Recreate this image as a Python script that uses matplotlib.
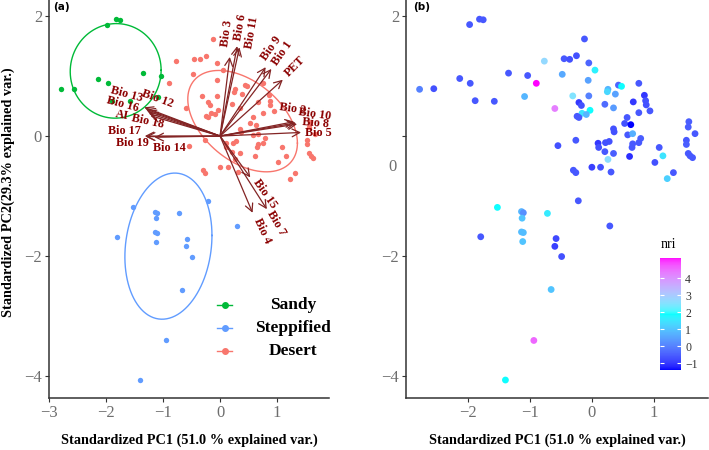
import numpy as np
import matplotlib
matplotlib.use("Agg")
import matplotlib.pyplot as plt
from matplotlib.colors import ListedColormap
from matplotlib.lines import Line2D

# ---------------- data ----------------
groups = ["Sandy", "Steppified", "Desert"]
group_colors = {"Sandy": "#00BA38", "Steppified": "#619CFF", "Desert": "#F8766D"}

sandy_pc1 = [-1.98, -1.82, -1.76, -2.79, -2.56, -2.14, -1.97, -1.89, -1.58, -1.35, -1.04, -1.09]
sandy_pc2 = [1.86, 1.95, 1.94, 0.78, 0.79, 0.96, 0.88, 0.59, 0.58, 1.05, 1.01, 0.66]
sandy_nri = [-0.6, -0.6, -0.6, 0.0, -0.7, -0.6, -0.6, -0.6, -0.6, -0.6, -0.6, 0.8]

stepp_pc1 = [-1.53, -1.14, -1.11, -1.13, -0.72, -0.22, 0.29, -1.80, -1.14, -1.11, -1.12,
             -0.58, -0.60, -0.49, -0.66, -0.94, -1.40]
stepp_pc2 = [-1.19, -1.26, -1.28, -1.37, -1.29, -1.08, -1.50, -1.68, -1.60, -1.61, -1.76,
             -1.71, -1.84, -2.01, -2.56, -3.41, -4.07]
stepp_nri = [1.9, 0.8, 0.2, 1.0, 1.6, -0.6, -0.6, -0.6, 0.9, 0.9, 1.0,
             -0.8, -0.9, -0.7, 1.0, 4.6, 1.9]

desert_pc1 = [-0.77, -0.90, -0.12, -0.45, -0.36, -0.25, -0.05, 0.05, -0.48, -0.06,
              0.43, 0.48, 0.76, 0.26, 0.25, 0.38, -0.31, -0.05, 0.85, 0.87,
              0.88, 0.94, 0.67, -0.21, -0.17, -0.60, 0.21, 0.35, -0.03, -0.16,
              -0.09, -0.24, -0.21, 0.76, 0.57, 1.57, 1.56, 1.67, 1.53, 1.53,
              1.56, 1.59, 1.63, 0.53, 0.63, 0.35, 0.36, 0.58, 0.66, 0.79,
              0.76, 0.66, 0.65, 1.09, 1.15, 1.02, 1.32, 1.22, 0.61, 0.26,
              0.10, 0.11, 0.22, 0.28, 0.21, 0.35, -0.55, -0.26, -0.30, -0.26,
              0.00, 0.14, 0.31]
desert_pc2 = [1.25, 0.88, 1.62, 1.29, 1.28, 1.34, 1.22, 1.10, 1.03, 0.93,
              0.85, 0.83, 0.88, 0.78, 0.74, 0.70, 0.67, 0.67, 0.68, 0.59,
              0.52, 0.42, 0.57, 0.56, 0.51, 0.46, 0.53, 0.47, 0.43, 0.38,
              0.36, 0.33, 0.31, 0.39, 0.31, 0.24, 0.15, 0.04, -0.07, -0.14,
              -0.29, -0.33, -0.36, 0.21, 0.19, 0.12, 0.07, 0.02, 0.04, -0.04,
              -0.11, -0.13, -0.19, -0.19, -0.33, -0.44, -0.61, -0.71, -0.34, -0.39,
              -0.12, -0.19, -0.11, -0.09, -0.26, -0.29, -0.16, -0.07, -0.57, -0.61,
              -0.52, -0.52, -0.60]
desert_nri = [2.7, 5.2, -0.6, -0.6, -0.7, -0.7, -0.4, 1.7, 0.6, 0.5,
              -0.4, 1.9, -0.6, 0.8, 1.3, 0.5, 2.5, 0.0, -1.0, -0.7,
              -0.7, -0.6, -1.0, -1.0, -0.7, 4.3, -0.3, 0.4, 1.9, 1.5,
              0.8, -0.6, -0.6, -0.6, -0.6, -0.5, -0.5, -0.6, -0.6, -0.5,
              -0.6, -0.6, -0.6, -0.7, -1.4, -0.7, -0.7, -0.6, 0.7, -0.5,
              -0.6, -0.6, -0.6, -0.6, 1.5, -0.7, -0.6, 1.2, -1.1, 2.6,
              -1.0, -0.7, -0.7, -0.7, -0.6, -0.5, -0.7, -0.6, -0.6, -0.6,
              -0.9, -0.7, -0.6]

var_names = ["Bio 3", "Bio 6", "Bio 11", "Bio 9", "Bio 1", "PET", "Bio 2", "Bio 10",
             "Bio 8", "Bio 5", "Bio 15", "Bio 7", "Bio 4", "Bio 12", "Bio 13", "Bio 16",
             "AI", "Bio 18", "Bio 17", "Bio 19", "Bio 14"]
load_pc1 = [0.17, 0.30, 0.34, 0.80, 0.90, 1.10, 1.30, 1.33, 1.35, 1.42, 0.53, 0.82, 0.57,
            -1.33, -1.30, -1.28, -1.25, -1.22, -1.32, -1.30, -1.15]
load_pc2 = [1.32, 1.50, 1.48, 1.15, 1.12, 0.94, 0.24, 0.22, 0.20, 0.06, -0.69, -1.22, -1.28,
            0.48, 0.45, 0.42, 0.38, 0.34, 0.00, -0.01, -0.02]

xticks_vals = [-3, -2, -1, 0, 1]
yticks_vals = [-4, -2, 0, 2]
cbar_ticks = [-1, 0, 1, 2, 3, 4]

# ---------------- style ----------------
# label placement: (dx, dy) pixel offset of label centre from arrow tip, rotation
label_style = {
    "Bio 3": (-3, 24, 82), "Bio 6": (3, 19, 80), "Bio 11": (12, 15, 80),
    "Bio 9": (6, 19, 55), "Bio 1": (11, 16, 55), "PET": (12, 13, 45),
    "Bio 2": (-2, 13, -8), "Bio 10": (19, 9, -8), "Bio 8": (18, 1, -5),
    "Bio 5": (17, -1, 0), "Bio 15": (15, -16, -55), "Bio 7": (9, -14, -60),
    "Bio 4": (10, -18, -65), "Bio 12": (13, 9, -20), "Bio 13": (-19, 15, -15),
    "Bio 16": (-24, 7, -15), "AI": (-27, -2, -10), "Bio 18": (-3, -6, -12),
    "Bio 17": (-20, 5, 0), "Bio 19": (-14, -6, 0), "Bio 14": (15, -11, 0),
}

SERIF = ["Liberation Serif", "DejaVu Serif"]
plt.rcParams["font.family"] = SERIF
TICK_COLOR = "#6e6e6e"
TICK_SIZE = 12
TITLE_SIZE = 10.3
W, H = 709, 450


def srgb_to_lab(rgb):
    rgb = np.asarray(rgb, float)
    lin = np.where(rgb <= 0.04045, rgb / 12.92, ((rgb + 0.055) / 1.055) ** 2.4)
    M = np.array([[0.4124564, 0.3575761, 0.1804375],
                  [0.2126729, 0.7151522, 0.0721750],
                  [0.0193339, 0.1191920, 0.9503041]])
    xyz = lin @ M.T / np.array([0.95047, 1.0, 1.08883])
    d = 6 / 29
    f = np.where(xyz > d ** 3, np.cbrt(xyz), xyz / (3 * d * d) + 4 / 29)
    L = 116 * f[..., 1] - 16
    a = 500 * (f[..., 0] - f[..., 1])
    b = 200 * (f[..., 1] - f[..., 2])
    return np.stack([L, a, b], -1)


def lab_to_srgb(lab):
    L, a, b = lab[..., 0], lab[..., 1], lab[..., 2]
    fy = (L + 16) / 116
    fx = fy + a / 500
    fz = fy - b / 200
    d = 6 / 29
    inv = lambda t: np.where(t > d, t ** 3, 3 * d * d * (t - 4 / 29))
    xyz = np.stack([inv(fx), inv(fy), inv(fz)], -1) * np.array([0.95047, 1.0, 1.08883])
    Minv = np.linalg.inv(np.array([[0.4124564, 0.3575761, 0.1804375],
                                   [0.2126729, 0.7151522, 0.0721750],
                                   [0.0193339, 0.1191920, 0.9503041]]))
    lin = np.clip(xyz @ Minv.T, 0, 1)
    srgb = np.where(lin <= 0.0031308, lin * 12.92, 1.055 * lin ** (1 / 2.4) - 0.055)
    return np.clip(srgb, 0, 1)


anchors = srgb_to_lab(np.array([[0, 0, 1], [0, 1, 1], [1, 0, 1]], float))
tt = np.linspace(0, 1, 256)
labs = np.empty((256, 3))
for i, t in enumerate(tt):
    if t <= 0.5:
        u = t / 0.5
        labs[i] = anchors[0] * (1 - u) + anchors[1] * u
    else:
        u = (t - 0.5) / 0.5
        labs[i] = anchors[1] * (1 - u) + anchors[2] * u
cmap = ListedColormap(lab_to_srgb(labs))

fig = plt.figure(figsize=(W / 100, H / 100), dpi=100)
axA = fig.add_axes([49 / W, 52 / H, 280 / W, 398 / H])
axB = fig.add_axes([406 / W, 52 / H, 302 / W, 398 / H])

group_data = {
    "Sandy": (sandy_pc1, sandy_pc2, sandy_nri),
    "Steppified": (stepp_pc1, stepp_pc2, stepp_nri),
    "Desert": (desert_pc1, desert_pc2, desert_nri),
}


def style_axes(ax, xlim, ylim):
    ax.set_xlim(*xlim)
    ax.set_ylim(*ylim)
    for s in ["top", "right"]:
        ax.spines[s].set_visible(False)
    for s in ["left", "bottom"]:
        ax.spines[s].set_color("#333333")
        ax.spines[s].set_linewidth(1.1)
    ax.set_xticks(xticks_vals)
    ax.set_yticks(yticks_vals)
    ax.tick_params(axis="both", colors="#333333", labelcolor=TICK_COLOR, labelsize=TICK_SIZE,
                   length=3, width=0.8, pad=2)
    for lab in ax.get_xticklabels() + ax.get_yticklabels():
        lab.set_family(SERIF)


# ---------------- panel (a) ----------------
style_axes(axA, (-3.0, 1.91), (-4.37, 2.27))
ed = np.sqrt(-2 * np.log(1 - 0.68))
theta = np.linspace(0, 2 * np.pi, 200)
circle = np.column_stack([np.cos(theta), np.sin(theta)])
for g in ["Desert", "Sandy", "Steppified"]:
    x, y, _ = group_data[g]
    axA.scatter(x, y, s=15, color=group_colors[g], linewidths=0, zorder=2)
    pts = np.column_stack([x, y])
    mu = pts.mean(axis=0)
    sigma = np.cov(pts, rowvar=False)
    L = np.linalg.cholesky(sigma)
    ell = circle @ L.T * ed + mu
    axA.plot(ell[:, 0], ell[:, 1], color=group_colors[g], lw=1.0, zorder=2)

for name, vx, vy in zip(var_names, load_pc1, load_pc2):
    axA.annotate("", xy=(vx, vy), xytext=(0, 0),
                 arrowprops=dict(arrowstyle="->,head_length=0.55,head_width=0.28",
                                 color="#832424", lw=0.9, shrinkA=0, shrinkB=0),
                 zorder=3)
    dx, dy, rot = label_style[name]
    axA.annotate(name, xy=(vx, vy), xytext=(dx, dy), textcoords="offset pixels",
                 ha="center", va="center", rotation=rot, rotation_mode="anchor",
                 color="#8B0000", fontsize=8.7, fontweight="bold", family=SERIF, zorder=4)

# legend (manual, ggplot-like centred labels)
for g, ypx in zip(groups, [305, 328, 351]):
    yf = 1 - ypx / H
    fig.add_artist(Line2D([217 / W, 232 / W], [yf, yf], transform=fig.transFigure,
                          color=group_colors[g], lw=1.0))
    fig.add_artist(Line2D([224.5 / W], [yf], transform=fig.transFigure, marker="o",
                          markersize=4, color=group_colors[g], lw=0))
    fig.text(293 / W, yf, g, ha="center", va="center", fontsize=12.5,
             fontweight="bold", family=SERIF)

fig.text(53 / W, 1 - 2 / H, "(a)", ha="left", va="top", fontsize=7.5,
         fontweight="bold", family=["DejaVu Sans"])
fig.text(189 / W, 1 - 440 / H, "Standardized PC1 (51.0 % explained var.)",
         ha="center", va="center", fontsize=TITLE_SIZE, fontweight="bold", family=SERIF)
fig.text(8 / W, 1 - 192 / H, "Standardized PC2(29.3% explained var.)",
         ha="center", va="center", rotation=90, fontsize=TITLE_SIZE, fontweight="bold",
         family=SERIF)

# ---------------- panel (b) ----------------
style_axes(axB, (-3.01, 1.88), (-4.37, 2.27))
all_x = sandy_pc1 + stepp_pc1 + desert_pc1
all_y = sandy_pc2 + stepp_pc2 + desert_pc2
all_nri = sandy_nri + stepp_nri + desert_nri
sc = axB.scatter(all_x, all_y, c=all_nri, cmap=cmap, vmin=min(all_nri), vmax=max(all_nri),
                 s=24, linewidths=0, zorder=2)
axB.set_xticks([-2, -1, 0, 1])
axB.set_yticks(yticks_vals)
axB.set_yticklabels(["\u22124", "\u22122", "", "2"])
for lab in axB.get_yticklabels():
    lab.set_family(SERIF)
axB.text(-0.03, -0.52, "0", transform=axB.get_yaxis_transform(), ha="right", va="center",
         fontsize=TICK_SIZE, color=TICK_COLOR, family=SERIF)
fig.text(557 / W, 1 - 440 / H, "Standardized PC1 (51.0 % explained var.)",
         ha="center", va="center", fontsize=TITLE_SIZE, fontweight="bold", family=SERIF)
fig.text(413 / W, 1 - 2 / H, "(b)", ha="left", va="top", fontsize=7.5,
         fontweight="bold", family=["DejaVu Sans"])

cax = fig.add_axes([660 / W, 1 - 370 / H, 21 / W, 112 / H])
cb = fig.colorbar(sc, cax=cax, ticks=cbar_ticks)
cb.outline.set_visible(False)
cax.tick_params(which="both", direction="in", color="white", length=3, width=0.8,
                left=True, right=True, labelsize=8.5, labelcolor="#333333", pad=3)
cax.set_yticklabels(["\u22121", "0", "1", "2", "3", "4"])
for lab in cax.get_yticklabels():
    lab.set_family(SERIF)
fig.text(668 / W, 1 - 245 / H, "nri", ha="center", va="center", fontsize=10, family=SERIF)

fig.savefig("out.png", dpi=100)
